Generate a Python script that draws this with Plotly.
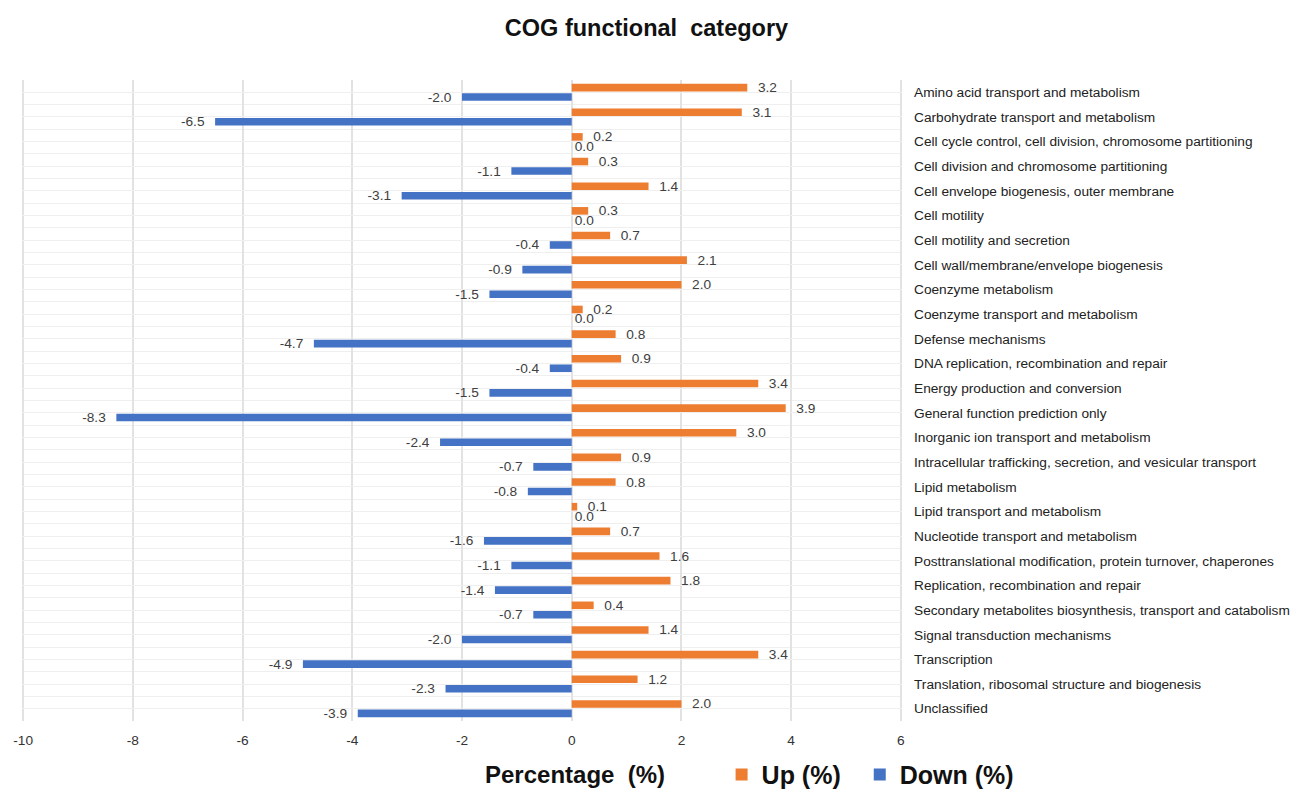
import plotly.graph_objects as go

categories = [
    "Amino acid transport and metabolism",
    "Carbohydrate transport and metabolism",
    "Cell cycle control, cell division, chromosome partitioning",
    "Cell division and chromosome partitioning",
    "Cell envelope biogenesis, outer membrane",
    "Cell motility",
    "Cell motility and secretion",
    "Cell wall/membrane/envelope biogenesis",
    "Coenzyme metabolism",
    "Coenzyme transport and metabolism",
    "Defense mechanisms",
    "DNA replication, recombination and repair",
    "Energy production and conversion",
    "General function prediction only",
    "Inorganic ion transport and metabolism",
    "Intracellular trafficking, secretion, and vesicular transport",
    "Lipid metabolism",
    "Lipid transport and metabolism",
    "Nucleotide transport and metabolism",
    "Posttranslational modification, protein turnover, chaperones",
    "Replication, recombination and repair",
    "Secondary metabolites biosynthesis, transport and catabolism",
    "Signal transduction mechanisms",
    "Transcription",
    "Translation, ribosomal structure and biogenesis",
    "Unclassified",
]

up_pct = [3.2, 3.1, 0.2, 0.3, 1.4, 0.3, 0.7, 2.1, 2.0, 0.2, 0.8, 0.9, 3.4,
          3.9, 3.0, 0.9, 0.8, 0.1, 0.7, 1.6, 1.8, 0.4, 1.4, 3.4, 1.2, 2.0]
down_pct = [-2.0, -6.5, 0.0, -1.1, -3.1, 0.0, -0.4, -0.9, -1.5, 0.0, -4.7, -0.4, -1.5,
            -8.3, -2.4, -0.7, -0.8, 0.0, -1.6, -1.1, -1.4, -0.7, -2.0, -4.9, -2.3, -3.9]

x_ticks = [-10, -8, -6, -4, -2, 0, 2, 4, 6]

UP_COLOR = "#ED7D31"
DOWN_COLOR = "#4472C4"
FONT = "Arial, Liberation Sans, sans-serif"
NB = "\u00a0"
LABEL_SIZE = 13.7

rows = list(range(len(categories)))

fig = go.Figure()
fig.add_trace(go.Bar(
    name="Up (%)", orientation="h", x=up_pct, y=rows,
    marker=dict(color=UP_COLOR, line=dict(width=0)),
    texttemplate=NB * 2 + "%{x:.1f}", textposition="outside",
    constraintext="none",
    textfont=dict(family=FONT, size=LABEL_SIZE, color="#404040"),
    cliponaxis=False, legend="legend",
))
fig.add_trace(go.Bar(
    name="Down (%)", orientation="h", x=down_pct, y=rows,
    marker=dict(color=DOWN_COLOR, line=dict(width=0)),
    texttemplate="%{x:.1f}" + NB * 2, textposition="outside",
    constraintext="none",
    textfont=dict(family=FONT, size=LABEL_SIZE, color="#404040"),
    cliponaxis=False, legend="legend2",
))

legend_style = dict(
    orientation="h", xanchor="left", y=-0.084, yanchor="middle",
    xref="paper", yref="paper",
    font=dict(family=FONT, size=25, color="#111111", weight="bold"),
    itemwidth=30, bgcolor="rgba(0,0,0,0)",
)

fig.update_layout(
    width=1293, height=789,
    margin=dict(l=22, r=391, t=80, b=68, autoexpand=False),
    paper_bgcolor="white", plot_bgcolor="white",
    barmode="group", bargap=0.23, bargroupgap=0.2,
    font=dict(family=FONT, color="#222222"),
    title=dict(
        text="<b>COG functional" + NB * 2 + "category</b>",
        x=0.5, xref="container", xanchor="center",
        y=1 - 28 / 789, yref="container", yanchor="middle",
        font=dict(family=FONT, size=23.5, color="#111111"),
    ),
    showlegend=True,
    legend=dict(x=0.795, **legend_style),
    legend2=dict(x=0.952, **legend_style),
    annotations=[dict(
        text="<b>Percentage" + NB * 2 + "(%)</b>",
        xref="paper", yref="paper", x=0.628, y=-0.084,
        xanchor="center", yanchor="middle", showarrow=False,
        font=dict(family=FONT, size=24, color="#111111"),
    )],
)

fig.update_xaxes(
    range=[-10.02, 6.02], tickvals=x_ticks, ticktext=[str(v) for v in x_ticks],
    showgrid=True, gridcolor="#e2e2e2", gridwidth=1.5,
    zeroline=False, showline=False, ticks="",
    ticklabelstandoff=9,
    tickfont=dict(family=FONT, size=LABEL_SIZE, color="#333333"),
)
fig.update_yaxes(
    range=[len(categories) - 0.5, -0.5],
    tickvals=rows, ticktext=categories, side="right",
    showgrid=True, gridcolor="#efefef", gridwidth=1,
    minor=dict(tickvals=[r - 0.5 for r in rows] + [len(categories) - 0.5],
               showgrid=True, gridcolor="#efefef", gridwidth=1, ticks=""),
    zeroline=False, showline=False, ticks="",
    ticklabelstandoff=11,
    tickfont=dict(family=FONT, size=LABEL_SIZE, color="#222222"),
)

fig.write_html("out.html")
